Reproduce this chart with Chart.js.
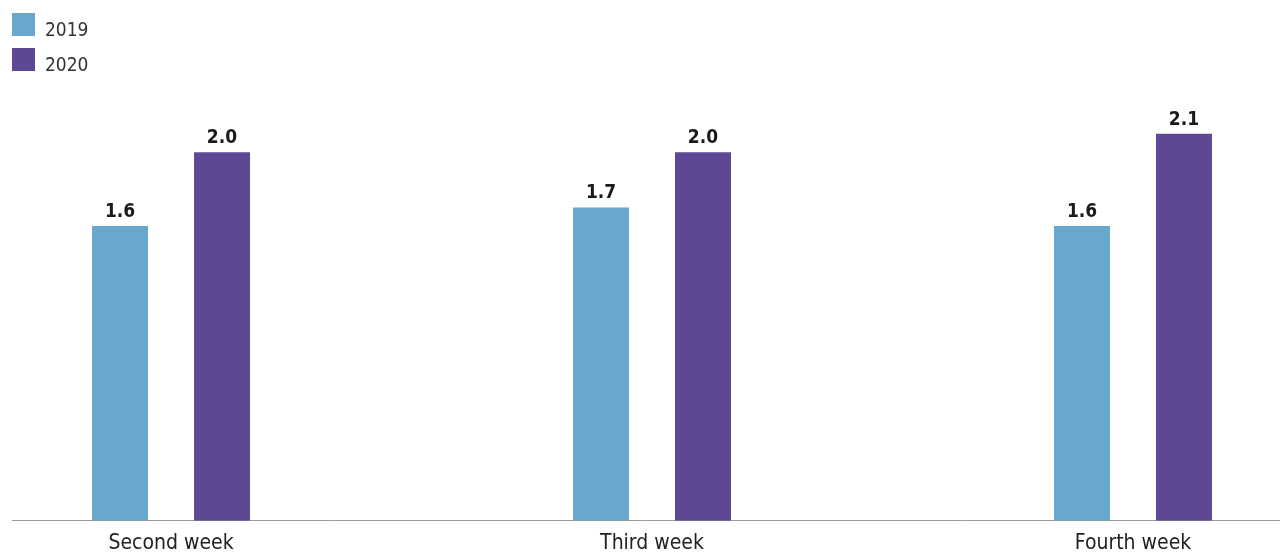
<!DOCTYPE html>
<html>
<head>
<meta charset="utf-8">
<script src="https://cdn.jsdelivr.net/npm/chart.js@4"></script>
<style>
  html, body { margin: 0; padding: 0; background: #fff; }
  #wrap { position: relative; width: 1280px; height: 552px; }
  #legend { position: absolute; left: 12px; top: 13px; font-family: "DejaVu Sans Condensed", sans-serif; font-size: 19px; color: #333; }
  #legend .item { display: flex; align-items: center; height: 23px; margin-bottom: 12px; }
  #legend .swatch { width: 23px; height: 23px; margin-right: 10px; }
  #legend .text { position: relative; top: 4px; }
</style>
</head>
<body>
<div id="wrap">
  <canvas id="chart" width="1280" height="552"></canvas>
  <div id="legend"></div>
</div>
<script>
// Data
const categories = ["Second week", "Third week", "Fourth week"];
const seriesNames = ["2019", "2020"];
const values2019 = [1.6, 1.7, 1.6];
const values2020 = [2.0, 2.0, 2.1];
const colors = ["#67a8cc", "#5e4894"];

const FONT = "'DejaVu Sans Condensed', sans-serif";

// HTML legend
const legendEl = document.getElementById("legend");
seriesNames.forEach((name, i) => {
  const item = document.createElement("div");
  item.className = "item";
  const sw = document.createElement("span");
  sw.className = "swatch";
  sw.style.background = colors[i];
  const label = document.createElement("span");
  label.className = "text";
  label.textContent = name;
  item.appendChild(sw);
  item.appendChild(label);
  legendEl.appendChild(item);
});

// value labels above the bars
const valueLabels = {
  id: "valueLabels",
  afterDatasetsDraw(chart) {
    const ctx = chart.ctx;
    ctx.save();
    ctx.font = "bold 19px " + FONT;
    ctx.fillStyle = "#1a1a1a";
    ctx.textAlign = "center";
    ctx.textBaseline = "alphabetic";
    chart.data.datasets.forEach((ds, di) => {
      chart.getDatasetMeta(di).data.forEach((bar, i) => {
        ctx.fillText(ds.data[i].y.toFixed(1), bar.x, bar.y - 9);
      });
    });
    ctx.restore();
  }
};

const toPoints = (arr) => arr.map((v, i) => ({ x: i, y: v }));

new Chart(document.getElementById("chart"), {
  type: "bar",
  data: {
    datasets: [
      { label: seriesNames[0], data: toPoints(values2019), backgroundColor: colors[0] },
      { label: seriesNames[1], data: toPoints(values2020), backgroundColor: colors[1] }
    ]
  },
  options: {
    responsive: false,
    animation: false,
    categoryPercentage: 0.424,
    barPercentage: 0.549,
    layout: { padding: { top: 60, left: 0, right: 0, bottom: -14 } },
    plugins: {
      legend: { display: false },
      tooltip: { enabled: false }
    },
    scales: {
      x: {
        type: "linear",
        bounds: "data",
        offset: false,
        min: -0.3306,
        max: 2.3056,
        afterBuildTicks: (scale) => {
          scale.ticks = categories.map((c, i) => ({ value: i }));
        },
        grid: { display: false, drawTicks: false },
        border: { display: true, color: "#9a9a9a", width: 1 },
        ticks: {
          callback: (value) => categories[value],
          color: "#222",
          font: { family: FONT, size: 21 },
          padding: 10,
          maxRotation: 0,
          autoSkip: false
        }
      },
      y: {
        min: 0,
        max: 2.5,
        display: true,
        afterFit: (scale) => { scale.width = 12; },
        grid: { display: false, drawTicks: false },
        border: { display: false },
        ticks: { display: false }
      }
    }
  },
  plugins: [valueLabels]
});
</script>
</body>
</html>
